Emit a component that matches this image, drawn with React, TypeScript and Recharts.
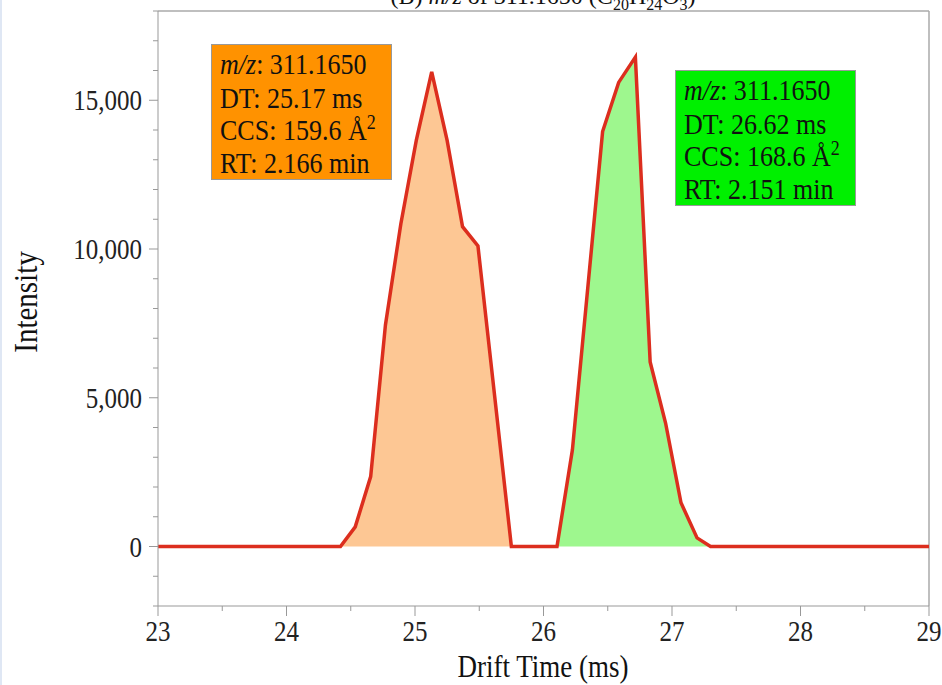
import React from "react";
import { ComposedChart, Area, Line, XAxis, YAxis, ReferenceLine } from "recharts";

const FONT = '"Liberation Serif", "Times New Roman", serif';

// drift time (ms) / intensity
const peak1Time = [24.42, 24.535, 24.655, 24.77, 24.89, 25.01, 25.13, 25.25, 25.37, 25.49, 25.75];
const peak1Intensity = [0, 660, 2350, 7450, 10850, 13650, 15950, 13650, 10750, 10100, 0];
const peak2Time = [26.105, 26.225, 26.46, 26.585, 26.715, 26.83, 26.95, 27.07, 27.195, 27.3];
const peak2Intensity = [0, 3250, 13950, 15600, 16450, 6200, 4150, 1470, 290, 0];
const baselineTime = [23, 29];

const xTicks = [23, 23.5, 24, 24.5, 25, 25.5, 26, 26.5, 27, 27.5, 28, 28.5, 29];
const yTicks = [-2000, -1000, 0, 1000, 2000, 3000, 4000, 5000, 6000, 7000, 8000, 9000, 10000,
  11000, 12000, 13000, 14000, 15000, 16000, 17000, 18000];

type Row = { t: number; signal: number; orange: number | null; green: number | null };

const rows: Row[] = [];
baselineTime.forEach(t => rows.push({ t, signal: 0, orange: null, green: null }));
peak1Time.forEach((t, i) => rows.push({ t, signal: peak1Intensity[i], orange: peak1Intensity[i], green: null }));
peak2Time.forEach((t, i) => rows.push({ t, signal: peak2Intensity[i], orange: null, green: peak2Intensity[i] }));
rows.sort((a, b) => a.t - b.t);

// the reference text looks a bit stretched vertically
const STRETCH = 1.15;

function YTick(props: any) {
  const { x, y, payload } = props;
  const major = payload.value % 5000 === 0;
  return (
    <g>
      <line x1={x - (major ? 9 : 5)} x2={x} y1={y} y2={y} stroke="#999" />
      {major && (
        <text transform={`translate(${x - 16},${y}) scale(1,${STRETCH})`} dy="0.35em" textAnchor="end" fontSize={25} fontFamily={FONT} fill="#222">
          {payload.value.toLocaleString("en-US")}
        </text>
      )}
    </g>
  );
}

function XTick(props: any) {
  const { x, y, payload } = props;
  const major = Number.isInteger(payload.value);
  return (
    <g>
      <line x1={x} x2={x} y1={y} y2={y + (major ? 10 : 5)} stroke="#999" />
      {major && (
        <text transform={`translate(${x},${y + 35}) scale(1,${STRETCH})`} textAnchor="middle" fontSize={25} fontFamily={FONT} fill="#222">
          {payload.value}
        </text>
      )}
    </g>
  );
}

const boxText: React.CSSProperties = {
  position: "absolute",
  fontFamily: FONT,
  fontSize: 26,
  lineHeight: "28.5px",
  color: "#111",
  padding: "4px 8px",
  boxSizing: "border-box",
  border: "1px solid #999",
  whiteSpace: "nowrap",
};

function InfoBox(props: { left: number; top: number; bg: string; dt: string; ccs: string; rt: string }) {
  return (
    <div style={{ ...boxText, left: props.left, top: props.top, width: 181, height: 136, background: props.bg }}>
      <div style={{ transform: `scaleY(${STRETCH})`, transformOrigin: "0 0" }}>
        <div><i>m/z</i>: 311.1650</div>
        <div>DT: {props.dt} ms</div>
        <div>CCS: {props.ccs} Å<sup style={{ fontSize: 18, lineHeight: 0 }}>2</sup></div>
        <div>RT: {props.rt} min</div>
      </div>
    </div>
  );
}

export default function App() {
  return (
    <div style={{ position: "absolute", left: 0, top: 0, width: 942, height: 685, overflow: "hidden", background: "#fff", borderLeft: "2px solid #dfe7f4", boxSizing: "border-box" }}>
      <div style={{ position: "absolute", left: 0, top: 0 }}>
        <ComposedChart width={942} height={685} data={rows} margin={{ top: 11, right: 15, bottom: 0, left: 0 }}>
          <XAxis
            type="number"
            dataKey="t"
            domain={[23, 29]}
            ticks={xTicks}
            height={79}
            stroke="#999"
            tickSize={0}
            tickMargin={0}
            tick={<XTick />}
            allowDataOverflow
          />
          <YAxis
            type="number"
            domain={[-2000, 18000]}
            ticks={yTicks}
            width={156}
            stroke="#999"
            tickSize={0}
            tickMargin={0}
            tick={<YTick />}
            allowDataOverflow
          />
          <ReferenceLine y={18000} stroke="#aaa" strokeWidth={1.5} />
          <ReferenceLine x={29} stroke="#aaa" strokeWidth={1.5} />
          <Area type="linear" dataKey="orange" baseValue={0} fill="#fdc794" fillOpacity={1} stroke="none" isAnimationActive={false} />
          <Area type="linear" dataKey="green" baseValue={0} fill="#9ef78e" fillOpacity={1} stroke="none" isAnimationActive={false} />
          <Line type="linear" dataKey="signal" stroke="#dc2e1e" strokeWidth={3.5} dot={false} isAnimationActive={false} />
        </ComposedChart>
      </div>
      <div style={{ position: "absolute", left: 0, width: 1082, top: -16, textAlign: "center", fontFamily: FONT, fontSize: 24, lineHeight: "24px", color: "#111", whiteSpace: "nowrap" }}>
        (B) <i>m/z</i> of 311.1650 (C<sub style={{ fontSize: 16 }}>20</sub>H<sub style={{ fontSize: 16 }}>24</sub>O<sub style={{ fontSize: 16 }}>3</sub>)
      </div>
      <InfoBox left={209} top={44} bg="#ff9200" dt="25.17" ccs="159.6" rt="2.166" />
      <InfoBox left={673} top={70} bg="#00f000" dt="26.62" ccs="168.6" rt="2.151" />
      <div style={{ position: "absolute", left: 24, top: 302, transform: `translate(-50%, -50%) rotate(-90deg) scaleY(${STRETCH})`, fontFamily: FONT, fontSize: 29, color: "#111", whiteSpace: "nowrap" }}>
        Intensity
      </div>
      <div style={{ position: "absolute", left: 541, top: 667, transform: `translate(-50%, -50%) scaleY(${STRETCH})`, fontFamily: FONT, fontSize: 27, color: "#111", whiteSpace: "nowrap" }}>
        Drift Time (ms)
      </div>
    </div>
  );
}
